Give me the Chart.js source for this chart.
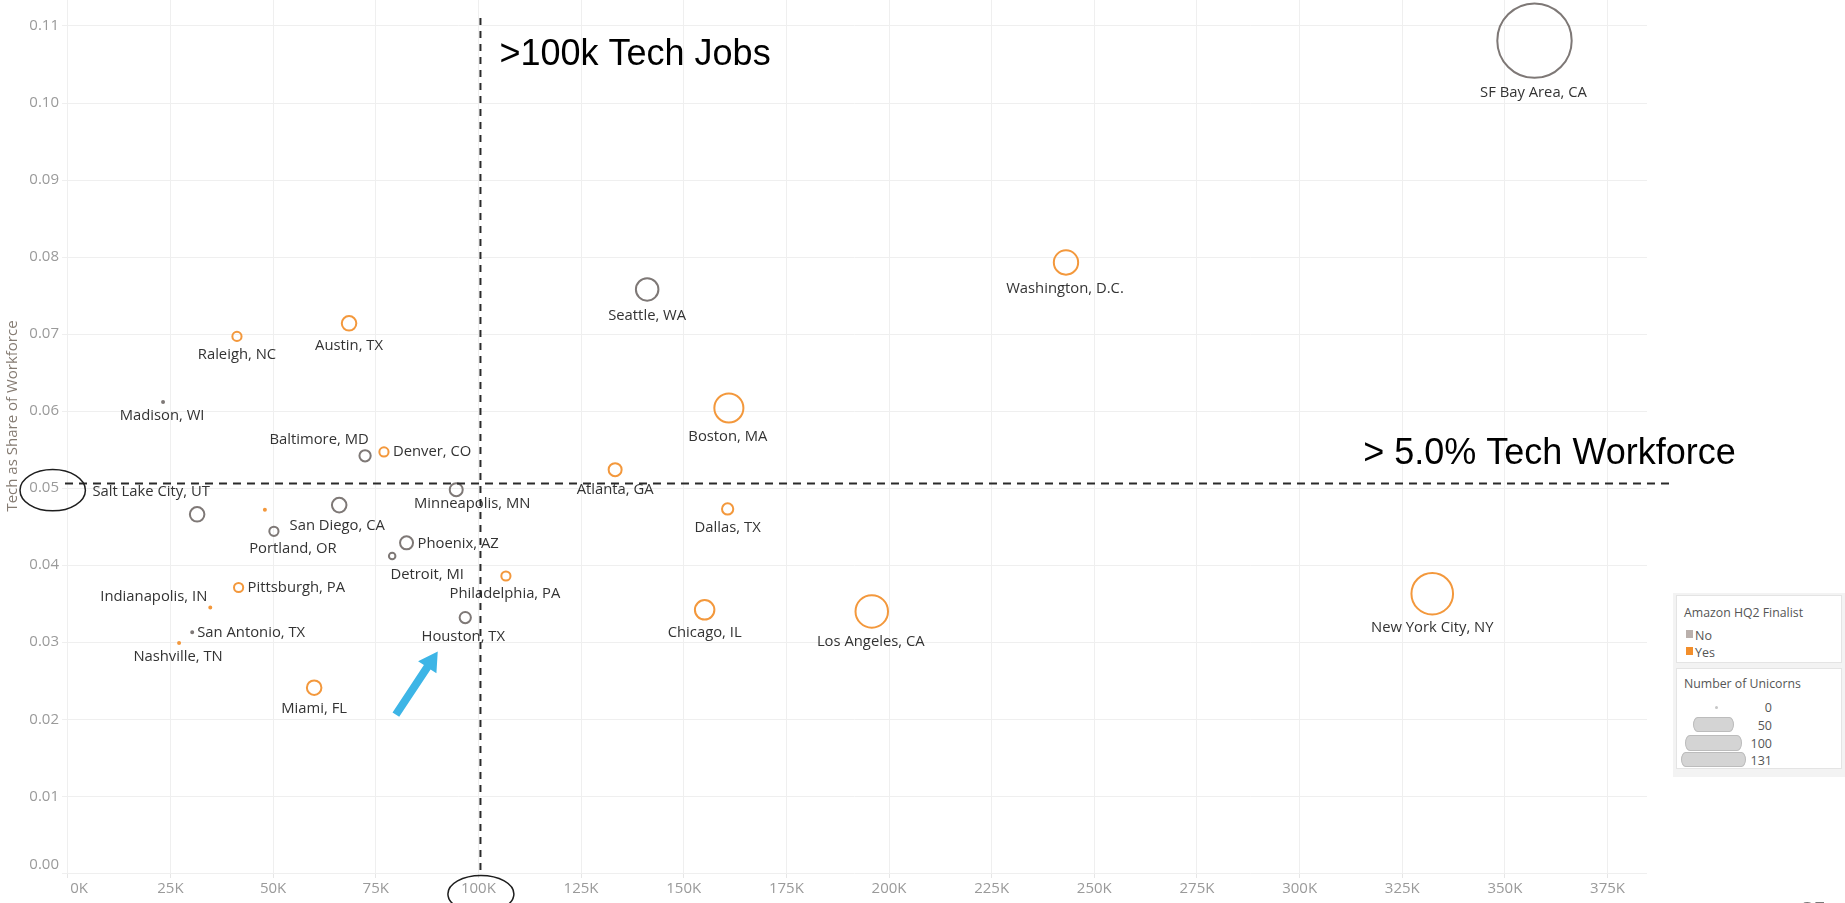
<!DOCTYPE html>
<html><head><meta charset="utf-8">
<script src="https://cdn.jsdelivr.net/npm/chart.js@4.4.1/dist/chart.umd.min.js"></script>
<style>
html,body{margin:0;padding:0;background:#fff;overflow:hidden;width:1845px;height:903px;font-family:'Open Sans',sans-serif}
canvas{position:absolute;left:0;top:0}
#legend{position:absolute;left:1673px;top:593px;width:172px;height:184px;background:#f3f3f3}
.box{position:absolute;left:3px;width:164px;background:#fff;border:1px solid #e4e4e4}
.ttl{position:absolute;left:7px;font-size:12.3px;color:#555;white-space:nowrap}
.it{position:absolute;left:18px;font-size:12.5px;color:#555}
.sw{position:absolute;left:9px;width:7px;height:8px}
.num{position:absolute;right:69px;font-size:12.5px;color:#555;text-align:right}
.sz{position:absolute;background:#d4d4d4;border:1px solid #bcbcbc;box-sizing:border-box}
#pg{position:absolute;left:1801px;top:893px;font:bold 22px 'Open Sans',sans-serif;color:#777}
</style></head>
<body>
<canvas id="c" width="1845" height="903"></canvas>
<div id="legend">
  <div class="box" style="top:2px;height:66px">
    <div class="ttl" style="top:8px">Amazon HQ2 Finalist</div>
    <div class="sw" style="top:34px;background:#bab0ac"></div><div class="it" style="top:31px">No</div>
    <div class="sw" style="top:51px;background:#f28e2b"></div><div class="it" style="top:48px">Yes</div>
  </div>
  <div class="box" style="top:75px;height:99px">
    <div class="ttl" style="top:6px">Number of Unicorns</div>
    <div class="sz" style="left:38px;top:37px;width:3px;height:3px;border:none;background:#c6c6c6;border-radius:50%"></div><div class="num" style="top:30px">0</div>
    <div class="sz" style="left:16px;top:48px;width:41px;height:15px;border-radius:5px/8px"></div><div class="num" style="top:48px">50</div>
    <div class="sz" style="left:8px;top:66px;width:57px;height:16px;border-radius:5px/8px"></div><div class="num" style="top:66px">100</div>
    <div class="sz" style="left:4px;top:83px;width:65px;height:15px;border-radius:5px/8px"></div><div class="num" style="top:83px">131</div>
  </div>
</div>
<div id="pg">25</div>
<script>
// ---- data ----
const cities = ["SF Bay Area, CA","New York City, NY","Washington, D.C.","Los Angeles, CA","Seattle, WA","Boston, MA","Chicago, IL","Dallas, TX","Atlanta, GA","Philadelphia, PA","Houston, TX","Minneapolis, MN","Phoenix, AZ","Detroit, MI","Denver, CO","Baltimore, MD","Austin, TX","San Diego, CA","Miami, FL","Portland, OR","Columbus, OH","Pittsburgh, PA","Raleigh, NC","Indianapolis, IN","Salt Lake City, UT","San Antonio, TX","Nashville, TN","Madison, WI"];
const techJobsK = [357.2,332.3,243.1,195.8,141.1,161.0,155.1,160.7,133.3,106.7,96.8,94.6,82.5,79.0,77.0,72.4,68.5,66.1,60.0,50.2,48.0,41.6,41.2,34.7,31.5,30.3,27.1,23.2];
const techShare = [0.1081,0.0363,0.0793,0.0340,0.0758,0.0604,0.0342,0.0473,0.0524,0.0386,0.0332,0.0498,0.0429,0.0412,0.0547,0.0542,0.0714,0.0478,0.0241,0.0444,0.0472,0.0371,0.0697,0.0345,0.0466,0.0313,0.0299,0.0612];
const unicorns = [131,41,14,25,12,20,9,3,4,2,3,4,4,1,2,3,5,5,5,2,0,2,2,0,5,0,0,0];
const hq2Finalist = ["No","Yes","Yes","Yes","No","Yes","Yes","Yes","Yes","Yes","No","No","No","No","Yes","No","Yes","No","Yes","No","Yes","Yes","Yes","Yes","No","No","Yes","No"];
const xTicksK = [0,25,50,75,100,125,150,175,200,225,250,275,300,325,350,375];
const yTicks = [0,0.01,0.02,0.03,0.04,0.05,0.06,0.07,0.08,0.09,0.10,0.11];
const jobsLineK = 100.5, shareLine = 0.0506;

// ---- layout (label placement relative to each mark, in px) ----
const labelOffsets = [[-1,52,'c'],[0,34,'c'],[-1,26,'c'],[-1,30,'c'],[0,26,'c'],[-1,29,'c'],[0,23,'c'],[0,19,'c'],[0,20,'c'],[-1,18,'c'],[-2,19,'c'],[16,14,'c'],[11,1,'l'],[35,19,'c'],[9,0,'l'],[-46,-16,'c'],[0,22,'c'],[-2,21,'c'],[0,21,'c'],[19,17,'c'],null,[9,0,'l'],[0,18,'c'],[-3,-11,'r'],[-46,-23,'c'],[5,1,'l'],[-1,14,'c'],[-1,14,'c']];

const colorFor = f => f === 'Yes' ? '#f3983c' : '#7e7876';
const radiusFor = n => Math.max(1, 3.25 * Math.sqrt(n));

Chart.defaults.font.family = "'Open Sans', sans-serif";

const annot = {
  id: 'annot',
  afterDatasetsDraw(chart) {
    const {ctx, scales: {x, y}, chartArea: a} = chart;
    ctx.save();
    // point labels
    ctx.font = "14.8px 'Open Sans'";
    ctx.fillStyle = '#333';
    ctx.textBaseline = 'middle';
    const meta = chart.getDatasetMeta(0);
    meta.data.forEach((el, i) => {
      const o = labelOffsets[i];
      if (!o) return;
      ctx.textAlign = {c: 'center', l: 'left', r: 'right'}[o[2]];
      ctx.fillText(cities[i], el.x + o[0], el.y + o[1]);
    });
    // dashed threshold lines
    ctx.strokeStyle = '#2a2a2a';
    ctx.lineWidth = 2;
    ctx.setLineDash([7, 6]);
    const vx = x.getPixelForValue(jobsLineK);
    ctx.beginPath(); ctx.moveTo(vx, 18); ctx.lineTo(vx, a.bottom); ctx.stroke();
    const hy = y.getPixelForValue(shareLine);
    ctx.setLineDash([8, 6]);
    ctx.beginPath(); ctx.moveTo(a.left + 3, hy); ctx.lineTo(a.right + 23, hy); ctx.stroke();
    ctx.setLineDash([]);
    // big annotation texts
    ctx.fillStyle = '#000';
    ctx.textAlign = 'left';
    ctx.textBaseline = 'alphabetic';
    ctx.font = "36px 'Liberation Sans', Arial, sans-serif";
    ctx.fillText('>100k Tech Jobs', vx + 19, 65);
    ctx.fillText('> 5.0% Tech Workforce', x.getPixelForValue(315.5), hy - 20);
    // y axis title
    ctx.save();
    ctx.translate(13, 416);
    ctx.rotate(-Math.PI / 2);
    ctx.font = "15px 'Open Sans'";
    ctx.fillStyle = '#857b72';
    ctx.textAlign = 'center';
    ctx.textBaseline = 'middle';
    ctx.fillText('Tech as Share of Workforce', 0, 0);
    ctx.restore();
    // hand-drawn ellipses round the 0.05 and 100K ticks
    ctx.strokeStyle = '#1e1e1e';
    ctx.lineWidth = 1.5;
    ctx.beginPath(); ctx.ellipse(52.7, y.getPixelForValue(0.05) + 2, 32.7, 20.7, 0, 0, Math.PI * 2); ctx.stroke();
    ctx.beginPath(); ctx.ellipse(x.getPixelForValue(100) + 2.5, a.bottom + 20, 33, 18.5, 0, 0, Math.PI * 2); ctx.stroke();
    // blue arrow pointing at Houston
    const tx = x.getPixelForValue(90.1), ty = y.getPixelForValue(0.0288);
    const sx = x.getPixelForValue(79.9), sy = y.getPixelForValue(0.0206);
    const ang = Math.atan2(ty - sy, tx - sx);
    const hl = 19, hw = 11, sw = 4;
    const bx = tx - hl * Math.cos(ang), by = ty - hl * Math.sin(ang);
    const px = -Math.sin(ang), py = Math.cos(ang);
    ctx.fillStyle = '#3db5e6';
    ctx.beginPath();
    ctx.moveTo(sx + px * sw, sy + py * sw);
    ctx.lineTo(bx + px * sw, by + py * sw);
    ctx.lineTo(bx + px * hw, by + py * hw);
    ctx.lineTo(tx, ty);
    ctx.lineTo(bx - px * hw, by - py * hw);
    ctx.lineTo(bx - px * sw, by - py * sw);
    ctx.lineTo(sx - px * sw, sy - py * sw);
    ctx.closePath();
    ctx.fill();
    ctx.restore();
  }
};

const noPad = s => { s.paddingTop = 0; s.paddingBottom = 0; s.paddingLeft = 0; s.paddingRight = 0; };

new Chart(document.getElementById('c'), {
  type: 'bubble',
  data: {
    datasets: [{
      data: cities.map((c, i) => ({x: techJobsK[i], y: techShare[i]})),
      radius: ctx => radiusFor(unicorns[ctx.dataIndex]),
      borderColor: ctx => colorFor(hq2Finalist[ctx.dataIndex]),
      backgroundColor: ctx => unicorns[ctx.dataIndex] === 0 ? colorFor(hq2Finalist[ctx.dataIndex]) : 'rgba(255,255,255,0)',
      borderWidth: 2,
      hoverRadius: 0,
      clip: false
    }]
  },
  options: {
    responsive: false,
    animation: false,
    devicePixelRatio: 1,
    events: [],
    layout: {autoPadding: false, padding: {left: 0, right: 198, top: 0, bottom: 0}},
    plugins: {legend: {display: false}, tooltip: {enabled: false}},
    scales: {
      x: {
        type: 'linear', min: -1.41, max: 384.6,
        afterBuildTicks: s => { s.ticks = xTicksK.map(v => ({value: v})); },
        afterFit: s => { s.height = 29; noPad(s); },
        grid: {color: '#efefef', lineWidth: 1, drawTicks: true, tickLength: 4, tickColor: '#e6e6e6'},
        border: {display: false},
        ticks: {color: '#9a9a9a', font: {size: 15}, padding: 2, maxRotation: 0, autoSkip: false,
                callback: v => v === 0 ? '\u2002\u2002\u20020K' : v + 'K'}
      },
      y: {
        type: 'linear', min: -0.0000909, max: 0.113375,
        afterBuildTicks: s => { s.ticks = yTicks.map(v => ({value: v})); },
        afterFit: s => { s.width = 62; noPad(s); },
        grid: {color: '#efefef', lineWidth: 1, drawTicks: false},
        border: {display: false},
        ticks: {color: '#9a9a9a', font: {size: 15}, padding: 3, callback: v => v === 0 ? ['0.00', ''] : v.toFixed(2)}
      }
    }
  },
  plugins: [annot]
});
</script>
</body></html>
